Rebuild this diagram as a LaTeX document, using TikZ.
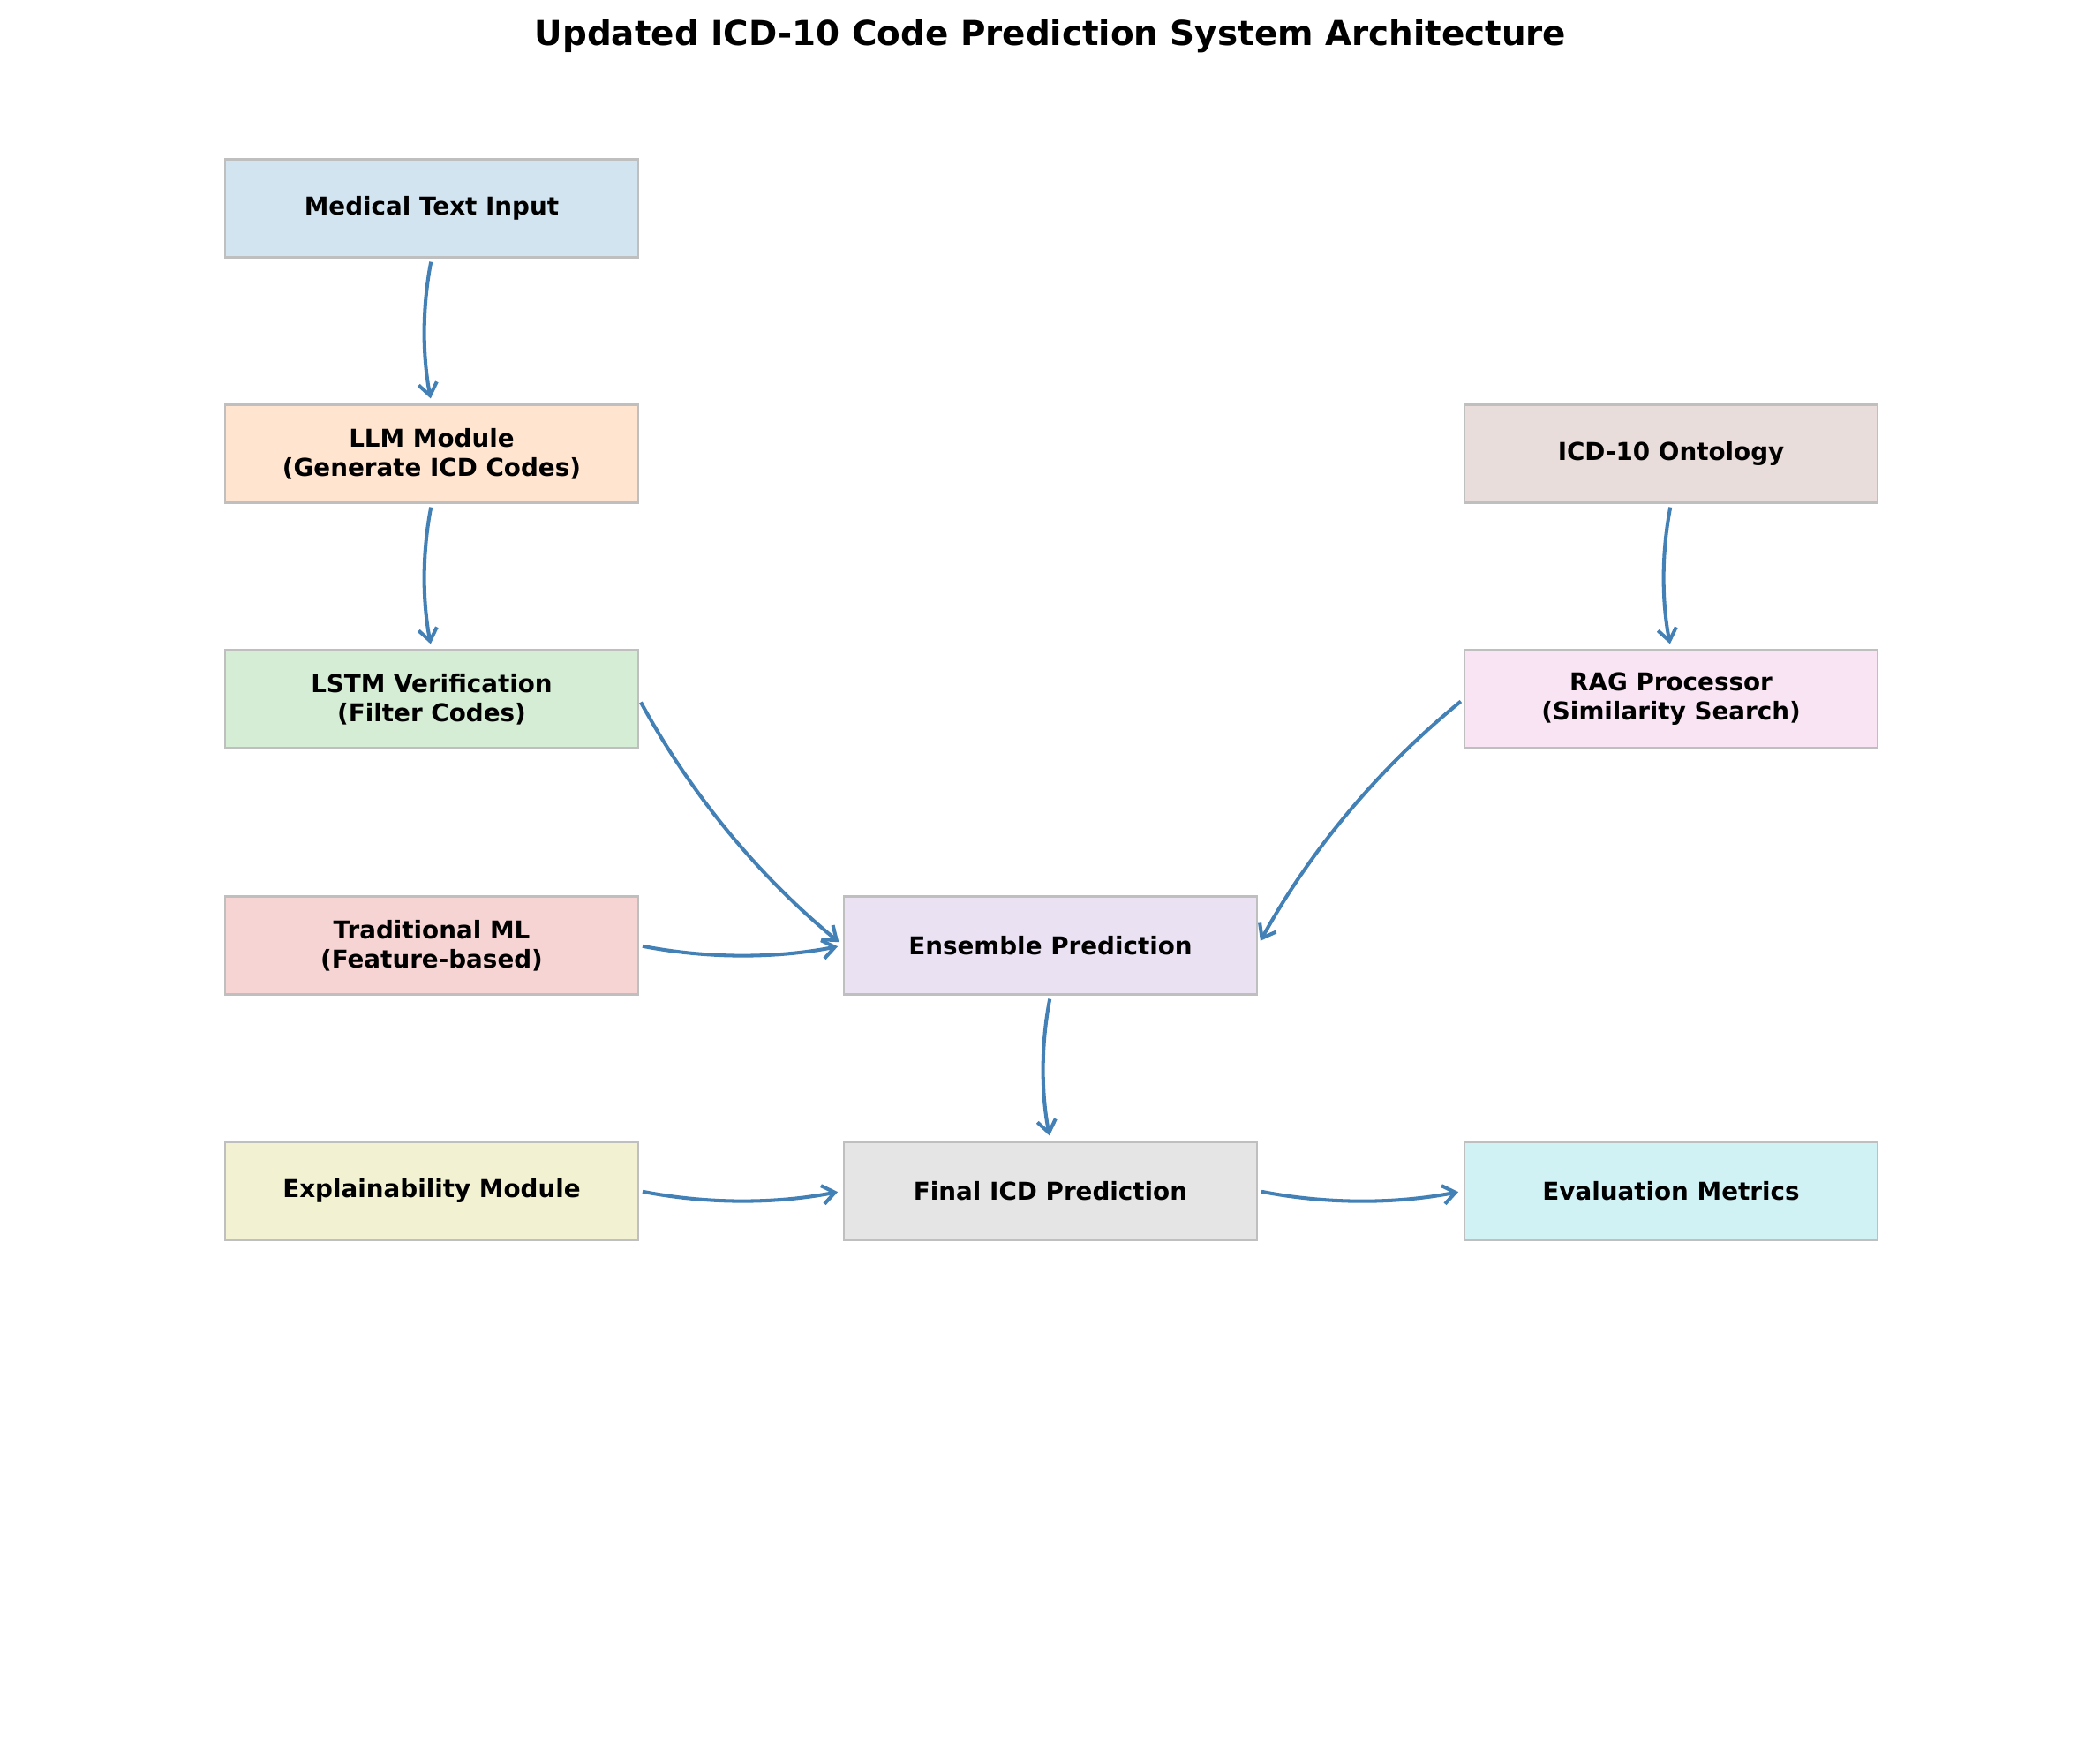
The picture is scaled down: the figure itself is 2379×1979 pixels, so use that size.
\documentclass[tikz,border=0pt]{standalone}
\usepackage{fontspec}
\setmainfont{DejaVu Sans}
\usetikzlibrary{arrows.meta}

\definecolor{steelblue}{RGB}{66,128,182}
\definecolor{fillblue}{RGB}{210,228,240}
\definecolor{fillorange}{RGB}{255,229,207}
\definecolor{fillgreen}{RGB}{213,236,213}
\definecolor{fillred}{RGB}{247,212,212}
\definecolor{fillpurple}{RGB}{234,225,242}
\definecolor{fillbrown}{RGB}{232,221,219}
\definecolor{fillpink}{RGB}{249,228,243}
\definecolor{fillgray}{RGB}{229,229,229}
\definecolor{fillolive}{RGB}{242,242,211}
\definecolor{fillcyan}{RGB}{209,242,245}

\begin{document}
\begin{tikzpicture}[x=0.01cm, y=-0.01cm,
    block/.style={draw=gray!50, line width=0.65pt, minimum width=4.675cm, minimum height=1.11cm,
                  inner sep=0pt, align=center, font=\fontsize{7.9}{9.3}\selectfont\bfseries},
    flow/.style={draw=steelblue, line width=1.15pt, -{Straight Barb[length=0.14cm,width=0.21cm]},
                 shorten <=0.04cm, shorten >=0.06cm, bend right=11, looseness=0.87}]
    \useasboundingbox (0,0) rectangle (2379,1979);

    \node[font=\fontsize{11.05}{13}\selectfont\bfseries, anchor=base] (title) at (1190,52)
        {Updated ICD-10 Code Prediction System Architecture};

    % left column
    \node[block, fill=fillblue] (medical) at (489,236) {Medical Text Input};
    \node[block, fill=fillorange] (llm) at (489,514) {LLM Module\\(Generate ICD Codes)};
    \node[block, fill=fillgreen] (lstm) at (489,792) {LSTM Verification\\(Filter Codes)};
    \node[block, fill=fillred] (tradml) at (489,1071) {Traditional ML\\(Feature-based)};
    \node[block, fill=fillolive] (explain) at (489,1349) {Explainability Module};

    % middle column
    \node[block, fill=fillpurple] (ensemble) at (1190,1071) {Ensemble Prediction};
    \node[block, fill=fillgray] (final) at (1190,1349) {Final ICD Prediction};

    % right column
    \node[block, fill=fillbrown] (ontology) at (1893,514) {ICD-10 Ontology};
    \node[block, fill=fillpink] (rag) at (1893,792) {RAG Processor\\(Similarity Search)};
    \node[block, fill=fillcyan] (evalm) at (1893,1349) {Evaluation Metrics};

    \draw[flow] (medical.south) to (llm.north);
    \draw[flow] (llm.south) to (lstm.north);
    \draw[flow] (lstm.east) to (ensemble.west);
    \draw[flow] (tradml.east) to (ensemble.west);
    \draw[flow] (ontology.south) to (rag.north);
    \draw[flow] (rag.west) to (ensemble.east);
    \draw[flow] (ensemble.south) to (final.north);
    \draw[flow] (explain.east) to (final.west);
    \draw[flow] (final.east) to (evalm.west);

\end{tikzpicture}
\end{document}
